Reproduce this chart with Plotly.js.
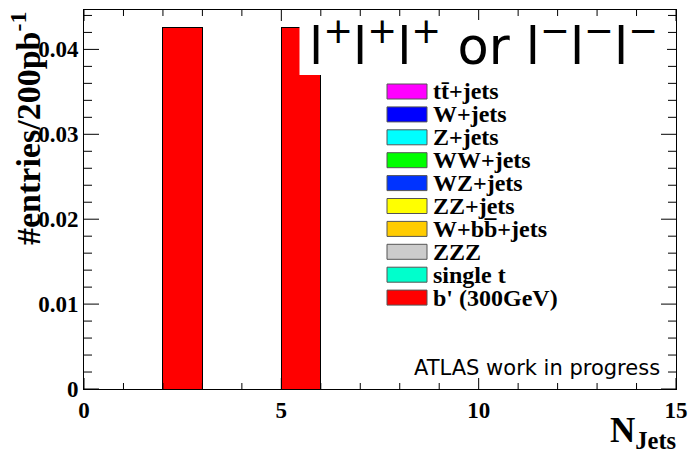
<!DOCTYPE html>
<html>
<head>
<meta charset="utf-8">
<script src="https://cdn.plot.ly/plotly-3.0.1.min.js"></script>
<style>html,body{margin:0;padding:0;background:#fff;}#chart{width:689px;height:459px;}</style>
</head>
<body>
<div id="chart"></div>
<script>
// N_Jets bin centres (bin width 1, 0..15)
const nJetsBins = [0.5, 1.5, 2.5, 3.5, 4.5, 5.5, 6.5, 7.5, 8.5, 9.5, 10.5, 11.5, 12.5, 13.5, 14.5];

// tick positions (axis values)
const xMajorTicks = [0, 5, 10, 15];
const xMinorTicks = [1, 2, 3, 4, 6, 7, 8, 9, 11, 12, 13, 14];
const yMajorTicks = [0, 0.01, 0.02, 0.03, 0.04];
const yMinorTicks = [0.002, 0.004, 0.006, 0.008, 0.012, 0.014, 0.016, 0.018, 0.022, 0.024, 0.026, 0.028,
                     0.032, 0.034, 0.036, 0.038, 0.042, 0.044];

// series (entries / 200 pb^-1) per bin
const ttbarJets = [0, 0, 0, 0, 0, 0, 0, 0, 0, 0, 0, 0, 0, 0, 0];
const wJets     = [0, 0, 0, 0, 0, 0, 0, 0, 0, 0, 0, 0, 0, 0, 0];
const zJets     = [0, 0, 0, 0, 0, 0, 0, 0, 0, 0, 0, 0, 0, 0, 0];
const wwJets    = [0, 0, 0, 0, 0, 0, 0, 0, 0, 0, 0, 0, 0, 0, 0];
const wzJets    = [0, 0, 0, 0, 0, 0, 0, 0, 0, 0, 0, 0, 0, 0, 0];
const zzJets    = [0, 0, 0, 0, 0, 0, 0, 0, 0, 0, 0, 0, 0, 0, 0];
const wbbJets   = [0, 0, 0, 0, 0, 0, 0, 0, 0, 0, 0, 0, 0, 0, 0];
const zzz       = [0, 0, 0, 0, 0, 0, 0, 0, 0, 0, 0, 0, 0, 0, 0];
const singleTop = [0, 0, 0, 0, 0, 0, 0, 0, 0, 0, 0, 0, 0, 0, 0];
const bPrime300 = [0, 0, 0.0426, 0, 0, 0.0426, 0, 0, 0, 0, 0, 0, 0, 0, 0];

const seriesNames = ["t\u0074\u0304+jets", "W+jets", "Z+jets", "WW+jets", "WZ+jets", "ZZ+jets",
                     "W+b\u0062\u0305+jets", "ZZZ", "single t", "b' (300GeV)"];
const seriesValues = [ttbarJets, wJets, zJets, wwJets, wzJets, zzJets, wbbJets, zzz, singleTop, bPrime300];
const seriesColors = ["#ff00ff", "#0000ff", "#00ffff", "#00ff00", "#0033ff", "#ffff00",
                      "#ffcc00", "#cccccc", "#00ffcc", "#ff0000"];

const serifB = {family: "Liberation Serif, Times New Roman, serif", weight: "bold", color: "#000"};

const traces = seriesNames.map((name, i) => ({
  type: "bar",
  name: name,
  x: nJetsBins,
  y: seriesValues[i],
  width: 1,
  marker: {color: seriesColors[i], line: {color: "#000", width: (i === seriesNames.length - 1) ? 1 : 0}},
  showlegend: false,
  hoverinfo: "skip"
}));

// plot area in px: x 84..676, y 10..389
const W = 689, H = 459, L = 84, R = 676, T = 10, B = 389;
const X_RANGE = [0, 15], Y_RANGE = [0, 0.04464];
const px2x = p => (p - L) / (R - L);
const px2y = p => (B - p) / (B - T);
const fracX = len => len / (R - L);
const fracY = len => len / (B - T);
// axis value -> fraction of the plot area (same linear mapping as the axes' ranges)
const vx = v => (v - X_RANGE[0]) / (X_RANGE[1] - X_RANGE[0]);
const vy = v => (v - Y_RANGE[0]) / (Y_RANGE[1] - Y_RANGE[0]);

const shapes = [];
// inside tick marks on all four sides: thin filled rects, 1 px thick
const tk = {type: "rect", xref: "paper", yref: "paper", fillcolor: "#000", line: {width: 0}, layer: "above"};
const hpx = fracX(0.5), hpy = fracY(0.5);
function xTick(v, len) {
  const c = vx(v);
  shapes.push(Object.assign({}, tk, {x0: c - hpx, x1: c + hpx, y0: 0, y1: fracY(len)}));
  shapes.push(Object.assign({}, tk, {x0: c - hpx, x1: c + hpx, y0: 1 - fracY(len), y1: 1}));
}
function yTick(v, len) {
  const c = vy(v);
  shapes.push(Object.assign({}, tk, {y0: c - hpy, y1: c + hpy, x0: 0, x1: fracX(len)}));
  shapes.push(Object.assign({}, tk, {y0: c - hpy, y1: c + hpy, x0: 1 - fracX(len), x1: 1}));
}
xMajorTicks.forEach(v => xTick(v, 11));
xMinorTicks.forEach(v => xTick(v, 6));
yMajorTicks.forEach(v => yTick(v, 15));
yMinorTicks.forEach(v => yTick(v, 8));

// white title pad (covers part of the histogram, as in the original)
shapes.push({type: "rect", xref: "paper", yref: "paper", x0: px2x(299.5), x1: px2x(667), y0: px2y(75), y1: px2y(20),
   fillcolor: "#ffffff", line: {width: 0}, layer: "above"});

const annotations = [
  {xref: "paper", yref: "paper", x: px2x(307), y: px2y(43), xanchor: "left", yanchor: "middle", showarrow: false,
   text: "l<sup>+</sup>l<sup>+</sup>l<sup>+</sup> or l<sup>\u2212</sup>l<sup>\u2212</sup>l<sup>\u2212</sup>",
   font: {family: "DejaVu Sans, sans-serif", size: 51, color: "#000"}},
  {xref: "paper", yref: "paper", x: px2x(662), y: px2y(368), xanchor: "right", yanchor: "middle", showarrow: false,
   text: "ATLAS work in progress", font: {family: "DejaVu Sans, sans-serif", size: 21, color: "#000"}},
  {xref: "paper", yref: "paper", x: 0, xshift: -58, y: px2y(129), xanchor: "center", yanchor: "middle", showarrow: false,
   textangle: -90, text: "#entries/200pb<sup>-1</sup>", font: Object.assign({}, serifB, {size: 34})},
  {xref: "paper", yref: "paper", x: 1, xshift: 2, y: px2y(409), xanchor: "right", yanchor: "top", showarrow: false,
   text: "N<sub>Jets</sub>", font: Object.assign({}, serifB, {size: 35})}
];

// legend built from the series names / colours
seriesNames.forEach((name, i) => {
  const c = 91.5 + 22.9 * i;
  shapes.push({type: "rect", xref: "paper", yref: "paper", x0: px2x(387), x1: px2x(427),
    y0: px2y(c + 7.5), y1: px2y(c - 7.5), fillcolor: seriesColors[i], line: {color: "#555", width: 1}, layer: "above"});
  annotations.push({xref: "paper", yref: "paper", x: px2x(431), y: px2y(c), xanchor: "left", yanchor: "middle",
    showarrow: false, text: name, font: Object.assign({}, serifB, {size: 24})});
});

const layout = {
  width: W, height: H,
  margin: {l: L, r: W - R, t: T, b: H - B},
  paper_bgcolor: "#fff", plot_bgcolor: "#fff",
  barmode: "stack", bargap: 0,
  showlegend: false,
  xaxis: {range: X_RANGE, tickmode: "array", tickvals: xMajorTicks, ticks: "",
    showline: true, linecolor: "#000", linewidth: 1, mirror: true, showgrid: false, zeroline: false,
    tickfont: Object.assign({}, serifB, {size: 23})},
  yaxis: {range: Y_RANGE, tickmode: "array", tickvals: yMajorTicks, ticks: "",
    showline: true, linecolor: "#000", linewidth: 1, mirror: true, showgrid: false, zeroline: false,
    tickfont: Object.assign({}, serifB, {size: 23})},
  shapes: shapes,
  annotations: annotations
};

Plotly.newPlot("chart", traces, layout, {staticPlot: true, displayModeBar: false});
</script>
</body>
</html>
